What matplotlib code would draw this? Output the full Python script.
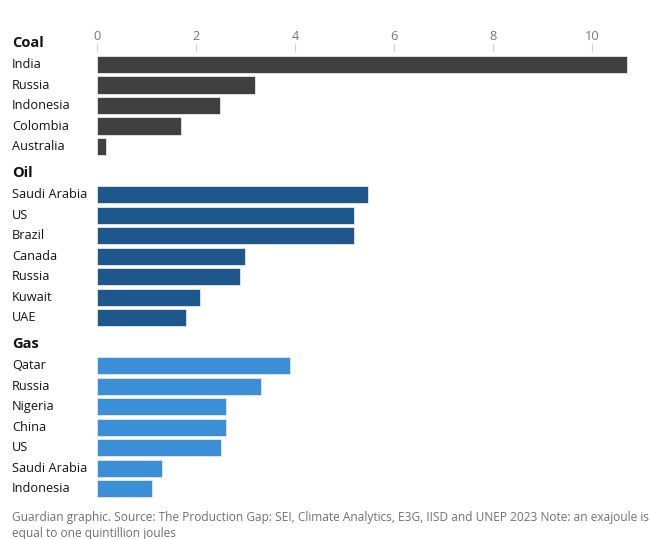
import matplotlib.pyplot as plt
from matplotlib.transforms import blended_transform_factory

plt.rcParams['font.family'] = ['Open Sans', 'DejaVu Sans']

# exajoules of planned production, 2030
groups = ['Coal', 'Oil', 'Gas']
coal_names = ['India', 'Russia', 'Indonesia', 'Colombia', 'Australia']
coal_vals = [10.7, 3.19, 2.48, 1.70, 0.18]
oil_names = ['Saudi Arabia', 'US', 'Brazil', 'Canada', 'Russia', 'Kuwait', 'UAE']
oil_vals = [5.47, 5.19, 5.19, 2.99, 2.89, 2.08, 1.80]
gas_names = ['Qatar', 'Russia', 'Nigeria', 'China', 'US', 'Saudi Arabia', 'Indonesia']
gas_vals = [3.90, 3.31, 2.61, 2.61, 2.51, 1.31, 1.11]
colors = ['#404040', '#1d578c', '#3b8fd7']
xticks = [0, 2, 4, 6, 8, 10]

fig = plt.figure(figsize=(6.51, 5.39), dpi=100)
ax = fig.add_axes([97/651, 1-500/539, (630-97)/651, (500-51)/539])
tr = blended_transform_factory(fig.transFigure, ax.transData)

# 20.5 px per row, header row at y=0 sits at pixel 43
y0 = (51-43)/20.5
y1 = (500-43)/20.5

y = 0
for g, names, vals, c in zip(groups, [coal_names, oil_names, gas_names],
                             [coal_vals, oil_vals, gas_vals], colors):
    ax.text(12/651, y, g, transform=tr, fontsize=10.5, fontweight='bold',
            va='center', ha='left', color='#121212', clip_on=False)
    y += 1.05
    for n, v in zip(names, vals):
        ax.barh(y, v, height=0.84, color=c, edgecolor='#e8e8e8', linewidth=0.6)
        ax.text(12/651, y, n, transform=tr, fontsize=9.2, va='center',
                ha='left', color='#121212', clip_on=False)
        y += 1
    y += 0.3

ax.set_xlim(0, (630-97)/49.5)
ax.set_ylim(y1, y0)
ax.set_xticks(xticks)
ax.set_xticklabels([str(t) for t in xticks])
ax.xaxis.tick_top()
ax.tick_params(axis='x', length=5, width=0.8, color='#cccccc',
               labelcolor='#777777', labelsize=9.2, pad=1)
ax.set_yticks([])
for s in ax.spines.values():
    s.set_visible(False)

fig.text(12/651, 1-517/539,
         'Guardian graphic. Source: The Production Gap: SEI, Climate Analytics, E3G, IISD and UNEP 2023 Note: an exajoule is',
         fontsize=8.6, color='#707070', va='center', ha='left')
fig.text(12/651, 1-533/539, 'equal to one quintillion joules',
         fontsize=8.6, color='#707070', va='center', ha='left')

fig.savefig('out.png', dpi=100)
